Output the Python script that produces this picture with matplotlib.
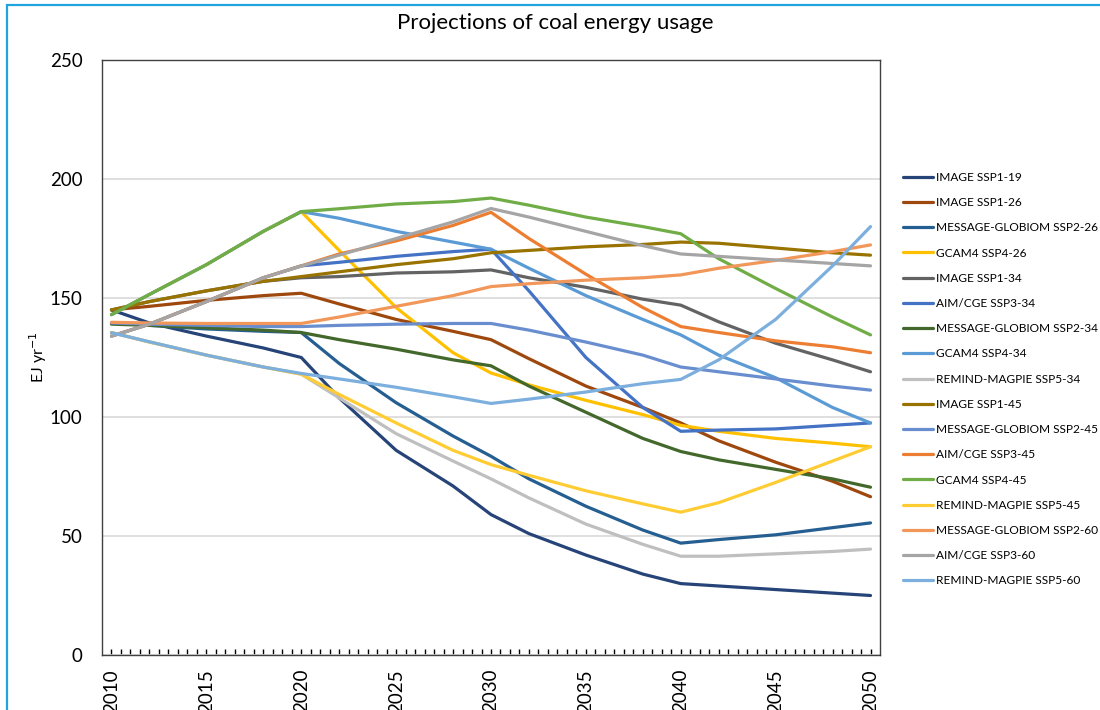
import matplotlib
matplotlib.use("Agg")
import matplotlib.pyplot as plt
from matplotlib.patches import Rectangle
import numpy as np

plt.rcParams['font.family'] = ['Lato', 'DejaVu Sans']

years = [2010, 2012, 2015, 2018, 2020, 2022, 2025, 2028, 2030, 2032, 2035, 2038, 2040, 2042, 2045, 2048, 2050]

labels = [
    "IMAGE SSP1-19", "IMAGE SSP1-26", "MESSAGE-GLOBIOM SSP2-26", "GCAM4 SSP4-26",
    "IMAGE SSP1-34", "AIM/CGE SSP3-34", "MESSAGE-GLOBIOM SSP2-34", "GCAM4 SSP4-34",
    "REMIND-MAGPIE SSP5-34", "IMAGE SSP1-45", "MESSAGE-GLOBIOM SSP2-45", "AIM/CGE SSP3-45",
    "GCAM4 SSP4-45", "REMIND-MAGPIE SSP5-45", "MESSAGE-GLOBIOM SSP2-60", "AIM/CGE SSP3-60",
    "REMIND-MAGPIE SSP5-60",
]

colors = [
    "#264478", "#9E480E", "#255E91", "#FFC000",
    "#636363", "#4472C4", "#43682B", "#5B9BD5",
    "#BFBFBF", "#997300", "#698ED0", "#ED7D31",
    "#70AD47", "#FFCD33", "#F1975A", "#A5A5A5",
    "#7CAFDD",
]

image_ssp1_19 = [145, 139.5, 134, 129, 125, 108, 86, 71, 59, 51, 42, 34, 30, 29, 27.5, 26, 25]
image_ssp1_26 = [145, 146.5, 149, 151, 152, 147.5, 141, 136, 132.5, 124.5, 113, 104, 97.5, 90, 81, 73, 66.5]
message_ssp2_26 = [139.5, 138.5, 137, 136, 135.5, 122.5, 106, 92, 83.5, 74, 62.5, 52.5, 47, 48.5, 50.5, 53.5, 55.5]
gcam4_ssp4_26 = [143, 151.5, 164, 178, 186.3, 170, 146, 127, 118.5, 113.5, 107, 101, 96.5, 94, 91, 89, 87.5]
image_ssp1_34 = [145, 148.5, 153, 157, 158.5, 159, 160.5, 161, 161.8, 158.5, 154.5, 149.5, 147, 140, 131, 124, 119]
aim_ssp3_34 = [134, 139, 148.5, 158.5, 163.5, 165, 167.5, 169.5, 170.5, 153, 125, 104, 94, 94.5, 95, 96.5, 97.5]
message_ssp2_34 = [139, 138.5, 137.5, 136.5, 135.5, 132.5, 128.5, 124, 121.5, 113, 102, 91, 85.5, 82, 78, 74, 70.5]
gcam4_ssp4_34 = [143, 151.5, 164, 178, 186.3, 183.5, 178, 173.5, 170.5, 162.5, 151, 141, 134.5, 126, 116.5, 104, 97.5]
remind_ssp5_34 = [135.5, 131.5, 126, 121, 118, 108, 93, 81.5, 74, 66, 55, 46.5, 41.5, 41.5, 42.5, 43.5, 44.5]
image_ssp1_45 = [145, 148.5, 153, 157, 159, 161, 164, 166.5, 169, 170, 171.5, 172.5, 173.5, 173, 171, 169, 168]
message_ssp2_45 = [139.5, 139, 138.5, 138, 138, 138.5, 139, 139.3, 139.3, 136.5, 131.5, 126, 121, 119, 116, 113, 111.3]
aim_ssp3_45 = [134, 139, 148.5, 158.5, 163.5, 168.5, 174, 180.5, 186, 175, 160, 146, 138, 135.5, 132, 129.5, 127]
gcam4_ssp4_45 = [143, 151.5, 164, 178, 186.3, 187.5, 189.5, 190.5, 192, 189, 184, 180, 177, 166.5, 154, 142, 134.5]
remind_ssp5_45 = [135.5, 131.5, 126, 121, 118, 109.5, 97.5, 86, 80, 75.5, 69, 63.5, 60, 64, 72.5, 81.5, 87.5]
message_ssp2_60 = [139.8, 139.5, 139.3, 139.3, 139.3, 142, 146.5, 151, 154.8, 156, 157.5, 158.5, 159.7, 162.5, 165.8, 169.5, 172.3]
aim_ssp3_60 = [134, 139, 148.5, 158.5, 163.4, 168, 175, 182, 187.6, 184, 178, 172, 168.5, 167.5, 166, 164.5, 163.5]
remind_ssp5_60 = [135.4, 131.6, 126, 121, 118.3, 116, 112.5, 108.5, 105.7, 107.5, 110.5, 114, 115.8, 124, 141, 163.5, 180]

series = [
    image_ssp1_19, image_ssp1_26, message_ssp2_26, gcam4_ssp4_26,
    image_ssp1_34, aim_ssp3_34, message_ssp2_34, gcam4_ssp4_34,
    remind_ssp5_34, image_ssp1_45, message_ssp2_45, aim_ssp3_45,
    gcam4_ssp4_45, remind_ssp5_45, message_ssp2_60, aim_ssp3_60,
    remind_ssp5_60,
]

yticks = [0, 50, 100, 150, 200, 250]
xtick_years = [2010, 2015, 2020, 2025, 2030, 2035, 2040, 2045, 2050]

W, H = 1100, 710
fig = plt.figure(figsize=(W / 100, H / 100), dpi=100)
ax = fig.add_axes([102 / W, (H - 655) / H, (880 - 102) / W, (655 - 60) / H])

for vals, lab, col in zip(series, labels, colors):
    ax.plot(years, vals, color=col, lw=2.3, label=lab, solid_joinstyle='round', solid_capstyle='round')

ax.set_xlim(2009.5, 2050.5)
ax.set_ylim(0, 250)
ax.set_yticks(yticks)
ax.set_xticks(xtick_years)
ax.set_xticklabels([str(y) for y in xtick_years], rotation=90, fontsize=13.5)
ax.set_xticks(np.arange(2010, 2050.01, 0.5), minor=True)
ax.tick_params(axis='x', which='both', direction='in', length=4, width=1, color='#000000', pad=10)
ax.tick_params(axis='y', length=0, pad=14, labelsize=13.5)
ax.yaxis.grid(True, color='#D9D9D9', lw=1.2)
ax.set_axisbelow(True)
for s in ax.spines.values():
    s.set_color('#404040')
    s.set_linewidth(1.0)

ax.set_ylabel('EJ yr$^{-1}$', fontsize=11.5)
ax.yaxis.set_label_coords(-0.068, 0.5)

fig.text(0.505, 0.967, 'Projections of coal energy usage', ha='center', va='center', fontsize=16)

leg = ax.legend(loc='upper left', bbox_to_anchor=(903 / W, 1 - 172 / H), bbox_transform=fig.transFigure,
                frameon=False, fontsize=8.6, handlelength=2.5, handletextpad=0.25,
                labelspacing=1.19, borderpad=0, borderaxespad=0)
for line in leg.get_lines():
    line.set_linewidth(2.3)

border = Rectangle((7 / W, -0.2), 1.2, (H - 5) / H + 0.2, transform=fig.transFigure,
                   fill=False, edgecolor='#1FA4E0', lw=1.6, clip_on=False)
fig.patches.append(border)

fig.savefig('out.png', dpi=100)
